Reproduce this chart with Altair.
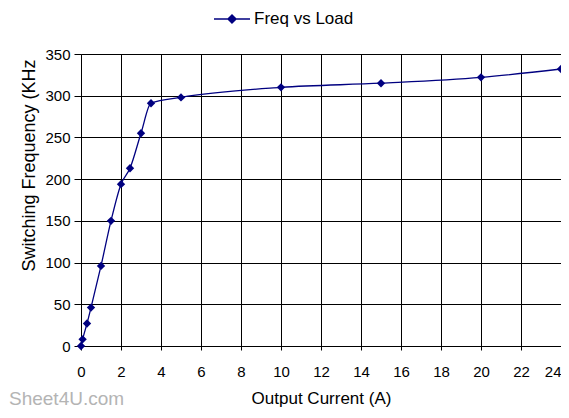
import altair as alt
import pandas as pd

current = [0, 0.08, 0.3, 0.5, 1.0, 1.5, 2.0, 2.45, 3.0, 3.5, 5, 10, 15, 20, 24]
freq = [0, 8, 27, 46, 96, 150, 194, 213, 255, 291, 298, 310, 315, 322, 332]
series = "Freq vs Load"
x_ticks = [0, 2, 4, 6, 8, 10, 12, 14, 16, 18, 20, 22, 24]
y_ticks = [0, 50, 100, 150, 200, 250, 300, 350]

df = pd.DataFrame({"current": current, "freq": freq, "series": series})

FONT = "Liberation Sans"
NAVY = "#000080"

x = alt.X("current:Q", title="Output Current (A)",
          scale=alt.Scale(domain=[0, 24], nice=False),
          axis=alt.Axis(values=x_ticks, labelFontSize=15, labelOverlap=False,
                        labelAlign={"condition": {"test": "datum.value == 24", "value": "right"},
                                    "value": "center"},
                        titleFontSize=17, labelColor="black", titleColor="black",
                        titleFontWeight="normal", grid=True, gridColor="black",
                        gridOpacity=1, gridWidth=1, domainColor="black", tickColor="black",
                        tickSize=4, labelPadding=14, titlePadding=11, labelFont=FONT,
                        titleFont=FONT, labelFlush=False, labelBound=False))
y = alt.Y("freq:Q", title="Switching Frequency (KHz",
          scale=alt.Scale(domain=[0, 350], nice=False),
          axis=alt.Axis(values=y_ticks, labelFontSize=15, labelOverlap=False,
                        titleFontSize=18, labelColor="black", titleColor="black",
                        titleFontWeight="normal", grid=True, gridColor="black",
                        gridOpacity=1, gridWidth=1, domainColor="black", tickColor="black",
                        tickSize=7, labelPadding=4, labelFont=FONT,
                        titleFont=FONT, titleAngle=270, titleAlign="center",
                        titleBaseline="middle", titleX=-52, titleY=111))
color = alt.Color("series:N", scale=alt.Scale(range=[NAVY]),
                  legend=alt.Legend(title=None, orient="none", legendX=132, legendY=-54,
                                    labelFontSize=17, labelFont=FONT, labelColor="black",
                                    symbolType="M-1,0H1M0,-0.22L0.22,0L0,0.22L-0.22,0Z",
                                    symbolSize=1300, symbolStrokeWidth=1.5,
                                    symbolFillColor=NAVY, labelOffset=3))

line = alt.Chart(df).mark_line(interpolate="monotone", strokeWidth=1.3).encode(x=x, y=y, color=color)
pts = alt.Chart(df).mark_point(shape="diamond", filled=True, size=70, opacity=1).encode(
    x=x, y=y, color=alt.Color("series:N", scale=alt.Scale(range=[NAVY]), legend=None))

wm = alt.Chart(pd.DataFrame({"t": ["Sheet4U.com"]})).mark_text(
    font=FONT, fontSize=19, color="#b4b4b4", align="left", baseline="middle"
).encode(text="t:N", x=alt.value(-72), y=alt.value(345))

chart = alt.layer(line, pts, wm).properties(
    width=480, height=292, autosize="none",
    padding={"left": 73, "top": 46, "right": 0, "bottom": 64}
).configure_view(stroke="black", strokeWidth=1.5).configure(background="white")

chart.save("out.html", embed_options={"renderer": "svg", "actions": False})
